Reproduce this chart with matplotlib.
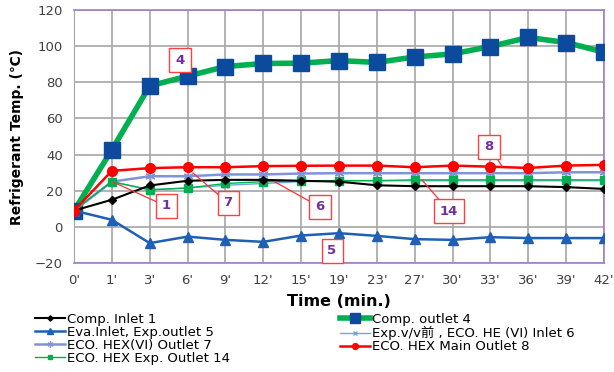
import matplotlib.pyplot as plt

plt.rcParams['font.family'] = ['DejaVu Sans', 'Noto Sans CJK JP']

times = ["0'", "1'", "3'", "6'", "9'", "12'", "15'", "19'", "23'", "27'", "30'", "33'", "36'", "39'", "42'"]

comp_inlet_1 = [9, 15, 22.9, 25.5, 26, 26, 25.5, 25, 23, 22.5, 22.5, 22.5, 22.5, 22, 21]
comp_outlet_4 = [8.9, 42.6, 78, 83.4, 88.7, 90.4, 90.6, 92, 91, 94, 95.7, 99.8, 104.8, 102, 96.7]
eva_inlet_5 = [9, 3.9, -9, -5.4, -7.2, -8.3, -4.8, -3.5, -5, -6.8, -7.2, -5.7, -6.2, -6.2, -6.2]
expvv_6 = [9, 25, 20.5, 21.5, 23, 24, 25, 25.5, 25.5, 25.5, 25.5, 25.5, 25.5, 25.5, 25.5]
eco_vi_7 = [9, 25, 28, 28, 29, 29, 29.5, 29.7, 29.7, 29.7, 29.7, 29.7, 29.7, 30.2, 30.2]
eco_main_8 = [9, 31, 32.5, 33, 33, 33.6, 33.8, 33.9, 33.9, 33, 33.9, 33.3, 32.6, 33.9, 34.3]
eco_exp_14 = [9, 25, 20.5, 21.5, 24, 25, 25.5, 25.6, 25.6, 26, 26, 26, 26, 26, 26]

x = list(range(len(times)))

fig = plt.figure(figsize=(6.14, 3.72), dpi=100)
ax = fig.add_axes([74/614, 1-263/372, 530/614, 253/372])

h4, = ax.plot(x, comp_outlet_4, color='#00b050', lw=4, marker='s', ms=11,
              mfc='#0b4a9c', mec='#0b4a9c', label='Comp. outlet 4', zorder=3)
h7, = ax.plot(x, eco_vi_7, color='#8193d6', lw=1.8, marker=(6, 2, 0), ms=7,
              mec='#8193d6', label='ECO. HEX(VI) Outlet 7', zorder=4)
h6, = ax.plot(x, expvv_6, color='#6fa8dc', lw=1, marker='x', ms=5,
              mec='#6fa8dc', label='Exp.v/v前 , ECO. HE (VI) Inlet 6', zorder=4)
h14, = ax.plot(x, eco_exp_14, color='#00b050', lw=1, marker='s', ms=6,
               label='ECO. HEX Exp. Outlet 14', zorder=5)
h1, = ax.plot(x, comp_inlet_1, color='black', lw=1.5, marker='D', ms=4.5,
              label='Comp. Inlet 1', zorder=5)
h5, = ax.plot(x, eva_inlet_5, color='#1f5fb4', lw=1.8, marker='^', ms=7,
              label='Eva.Inlet, Exp.outlet 5', zorder=5)
h8, = ax.plot(x, eco_main_8, color='#ff0000', lw=1.8, marker='o', ms=7,
              label='ECO. HEX Main Outlet 8', zorder=6)

ax.set_xlim(0, len(times) - 1)
ax.set_ylim(-20, 120)
ax.set_xticks(x)
ax.set_xticklabels(times)
ax.set_yticks(range(-20, 121, 20))
ax.grid(True, color='#a6a6a6', lw=1.2)
ax.set_axisbelow(True)
ax.tick_params(length=0, labelsize=9.5, colors='#404040', pad=8)
for s in ['top', 'right', 'bottom']:
    ax.spines[s].set_color('#9e7fcf')
    ax.spines[s].set_linewidth(1.2)
ax.spines['left'].set_color('#a6a6a6')

ax.set_ylabel('Refrigerant Temp. (℃)', fontsize=10, fontweight='bold', labelpad=8)
ax.set_xlabel('Time (min.)', fontsize=11.5, fontweight='bold', labelpad=5)

# annotation boxes
boxprops = dict(boxstyle='square,pad=0.45', fc='white', ec='#ff4040', lw=1)
notes = [
    ('4', 180, 60, None),
    ('1', 166, 206, (113, 182)),
    ('7', 228, 203, (193, 173)),
    ('6', 320, 207, (275, 182)),
    ('5', 332, 251, None),
    ('14', 449, 211, (422, 180)),
    ('8', 489, 147, (502, 166)),
]
for txt, bx, by, pt in notes:
    if pt is not None:
        fig.add_artist(plt.Line2D([pt[0]/614, bx/614], [1-pt[1]/372, 1-by/372],
                                  color='#ff3030', lw=0.9, zorder=9))
    fig.text(bx/614, 1-by/372, txt, ha='center', va='center', fontsize=9.5,
             fontweight='bold', color='#7030a0', bbox=boxprops, zorder=10)

handles = [h1, h5, h7, h14, h4, h6, h8]
fig.legend(handles=handles, labels=[h.get_label() for h in handles], ncol=2,
           loc='upper left', bbox_to_anchor=(35/614, 1-313/372), frameon=False,
           fontsize=9.5, handlelength=2.3, handletextpad=0.15, labelspacing=0,
           columnspacing=8.3, borderaxespad=0, borderpad=0, markerscale=0.6)

fig.savefig('out.png', dpi=100)
